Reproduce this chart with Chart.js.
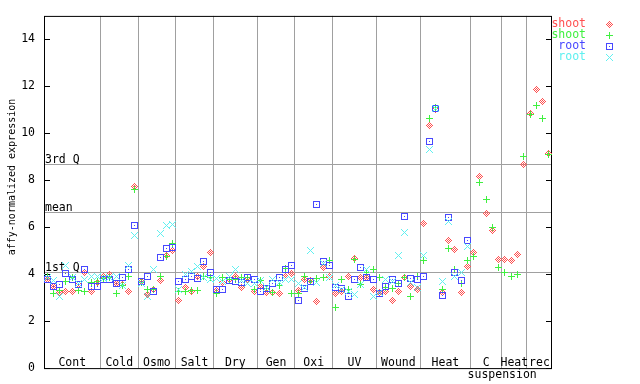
<!DOCTYPE html>
<html><head><meta charset="utf-8">
<script src="https://cdn.jsdelivr.net/npm/chart.js@4/dist/chart.umd.min.js"></script>
<style>html,body{margin:0;padding:0;background:#fff}#wrap{width:640px;height:384px;position:relative}</style>
</head><body><div id="wrap"><canvas id="c" width="640" height="384"></canvas></div>
<script>
// ---- data ----
const groups = ["Cont","Cold","Osmo","Salt","Dry","Gen","Oxi","UV","Wound","Heat","C\nsuspension","Heat","rec"];
const groupSizes = [9,6,6,6,7,6,6,7,7,8,5,4,4];
const seriesNames = ["shoot","shoot","root","root"];
// shoot replicate 1 (red diamonds)
const shoot1 = [3.77,3.46,3.22,3.25,3.28,3.55,4.07,3.25,3.65,
  3.88,3.98,3.59,3.55,3.25,7.75,
  3.69,3.14,3.35,3.75,4.80,5.00,
  2.87,3.42,3.28,3.90,4.32,4.94,
  3.32,3.63,3.76,3.88,3.42,3.76,3.28,
  3.49,3.21,3.21,3.17,3.88,4.05,
  3.32,3.76,3.74,2.83,4.30,3.88,
  3.17,3.28,3.88,4.68,3.84,3.84,3.35,
  3.21,3.26,2.87,3.25,3.84,3.46,3.33,
  6.16,10.34,11.00,3.20,5.42,5.06,3.21,4.34,
  4.93,8.16,6.59,5.88,4.64,
  4.64,4.59,4.85,8.65,
  10.85,11.86,11.35,9.14];
// shoot replicate 2 (green plus)
const shoot2 = [3.91,3.18,3.30,3.69,3.84,3.30,3.25,3.63,3.69,
  3.80,3.84,3.18,3.50,3.88,7.60,
  3.63,3.35,3.35,3.91,4.74,5.32,
  3.28,3.26,3.30,3.30,3.91,3.87,
  3.17,3.87,3.76,3.76,3.84,3.84,3.33,
  3.74,3.38,3.21,3.50,4.23,3.17,
  3.17,3.88,3.67,3.80,3.84,4.57,
  2.57,3.76,3.35,4.64,3.55,4.08,4.18,
  3.84,3.42,3.38,3.60,3.84,3.03,3.88,
  4.60,10.64,11.10,3.33,5.11,4.18,3.60,4.60,
  4.76,7.89,7.18,5.97,4.30,
  4.09,3.92,3.97,9.03,
  10.81,11.19,10.64,9.08];
// root replicate 1 (blue squares)
const root1 = [3.77,3.46,3.55,4.02,3.77,3.55,4.18,3.46,3.46,
  3.77,3.77,3.59,3.84,4.18,6.07,
  3.69,3.88,3.25,4.70,5.11,5.13,
  3.69,3.77,3.90,3.80,4.56,4.09,
  3.33,3.33,3.71,3.67,3.63,3.84,3.76,
  3.26,3.38,3.59,3.84,4.22,4.35,
  2.88,3.40,3.67,6.96,4.52,4.39,
  3.42,3.38,3.04,3.76,4.30,3.84,3.76,
  3.16,3.46,3.76,3.59,6.47,3.80,3.76,
  3.88,9.67,11.05,3.08,6.43,4.08,3.75,5.45,
  null,null,null,null,null,
  null,null,null,null,
  null,null,null,null];
// root replicate 2 (cyan crosses)
const root2 = [3.84,3.73,3.04,4.35,3.84,3.62,3.77,3.88,3.88,
  3.80,3.85,3.88,3.50,4.35,5.63,
  3.60,3.07,4.18,5.73,6.08,6.12,
  3.35,4.00,4.10,4.32,3.84,3.76,
  3.80,3.70,3.92,4.22,3.73,3.59,3.59,
  3.74,3.42,3.77,3.66,3.77,3.77,
  3.59,3.42,5.02,3.63,4.45,3.84,
  3.53,3.35,3.28,3.12,3.55,4.19,3.04,
  3.21,3.76,3.70,4.81,5.78,3.63,3.42,
  4.81,9.29,11.05,3.67,6.26,3.90,4.08,5.19,
  null,null,null,null,null,
  null,null,null,null,
  null,null,null,null];
const yTicks = [0,2,4,6,8,10,12,14];
const refLabels = ["3rd Q","mean","1st Q"];
const refValues = [8.70,6.63,4.09];

// ---- helpers ----
const N = groupSizes.reduce((a,b)=>a+b,0);
const bounds = []; { let acc=0; groupSizes.forEach(s=>{acc+=s; bounds.push(acc);}); }
const colors = ["rgb(255,80,80)","rgb(64,240,64)","rgb(72,72,255)","rgb(96,240,240)"];
const patterns = [
  ["...#...","..#.#..",".#.#.#.","#.#.#.#",".#.#.#.","..#.#..","...#..."],
  ["...#...","...#...","...#...","#######","...#...","...#...","...#..."],
  ["#######","#.....#","#.....#","#..#..#","#.....#","#.....#","#######"],
  ["#.....#",".#...#.","..#.#..","...#...","..#.#..",".#...#.","#.....#"]
];
function makeMarker(pat,color){
  const c=document.createElement('canvas'); c.width=7; c.height=7;
  const g=c.getContext('2d'); g.fillStyle=color;
  pat.forEach((row,y)=>{[...row].forEach((ch,x)=>{ if(ch==='#') g.fillRect(x,y,1,1); });});
  return c;
}
const markers = patterns.map((p,i)=>makeMarker(p,colors[i]));
const toPts = arr => arr.map((v,i)=> v==null?null:{x:i+0.5,y:v}).filter(Boolean);
const allSeries=[shoot1,shoot2,root1,root2];
const FONT = '11.5px "DejaVu Sans Mono", monospace';

const decor = {
  id:'decor',
  beforeDatasetsDraw(chart){
    const {ctx, chartArea:a, scales:{x,y}} = chart;
    ctx.save();
    ctx.strokeStyle='#a0a0a0'; ctx.lineWidth=1;
    ctx.font=FONT; ctx.fillStyle='#000'; ctx.textAlign='left'; ctx.textBaseline='alphabetic';
    refValues.forEach((v,i)=>{
      const py=Math.round(y.getPixelForValue(v))+0.5;
      ctx.beginPath(); ctx.moveTo(a.left,py); ctx.lineTo(a.right,py); ctx.stroke();
      ctx.fillText(refLabels[i], a.left+1, py-1.5);
    });
    ctx.strokeStyle='#000';
    ctx.strokeRect(a.left+0.5,a.top+0.5,a.right-a.left-1,a.bottom-a.top);
    yTicks.forEach(v=>{
      const py=Math.round(y.getPixelForValue(v))+0.5;
      ctx.beginPath(); ctx.moveTo(a.left,py); ctx.lineTo(a.left+6,py);
      ctx.moveTo(a.right-6,py); ctx.lineTo(a.right,py); ctx.stroke();
    });
    ctx.textAlign='center'; ctx.fillStyle='#000';
    let start=0;
    groups.forEach((g,i)=>{
      const end=bounds[i];
      const cx=(x.getPixelForValue(start)+x.getPixelForValue(end))/2;
      const lines=g.split('\n');
      lines.forEach((ln,j)=>ctx.fillText(ln,cx+(j>0?16:0),a.bottom-2+j*12));
      start=end;
    });
    ctx.restore();
    ctx.imageSmoothingEnabled=false;
  },
  afterDraw(chart){
    const {ctx} = chart;
    ctx.save();
    ctx.font=FONT; ctx.textBaseline='middle'; ctx.textAlign='right';
    ctx.imageSmoothingEnabled=false;
    seriesNames.forEach((n,i)=>{
      const py=24+i*11;
      ctx.fillStyle=colors[i];
      ctx.fillText(n,586,py);
      ctx.drawImage(markers[i],606,py-3);
    });
    ctx.translate(12,177); ctx.rotate(-Math.PI/2);
    ctx.textAlign='center'; ctx.fillStyle='#000';
    ctx.font='10px "DejaVu Sans Mono", monospace';
    ctx.fillText('affy-normalized expression',0,0);
    ctx.restore();
  }
};

new Chart(document.getElementById('c'),{
  type:'scatter',
  data:{datasets: allSeries.map((s,i)=>({
    label: seriesNames[i], data: toPts(s), pointStyle: markers[i],
    order: 4-i, pointRadius:3.5, pointHoverRadius:3.5, showLine:false
  }))},
  options:{
    responsive:false, animation:false, devicePixelRatio:1,
    layout:{padding:{left:0,top:13,right:88,bottom:0}},
    plugins:{legend:{display:false}, tooltip:{enabled:false}},
    scales:{
      x:{type:'linear', min:0, max:N,
        afterBuildTicks:s=>{ s.ticks = bounds.slice(0,-1).map(v=>({value:v})); },
        ticks:{display:false}, border:{display:false},
        grid:{color:'#a0a0a0', lineWidth:1, drawTicks:false, tickLength:0},
        afterFit:s=>{ s.height=15; }
      },
      y:{type:'linear', min:0, max:15,
        afterBuildTicks:s=>{ s.ticks = yTicks.map(v=>({value:v})); },
        ticks:{color:'#000', font:{family:'DejaVu Sans Mono', size:11.5}, padding:9},
        grid:{display:false, drawTicks:false, tickLength:0}, border:{display:false},
        afterFit:s=>{ s.width=44; }
      }
    }
  },
  plugins:[decor]
});
</script>
</body></html>
